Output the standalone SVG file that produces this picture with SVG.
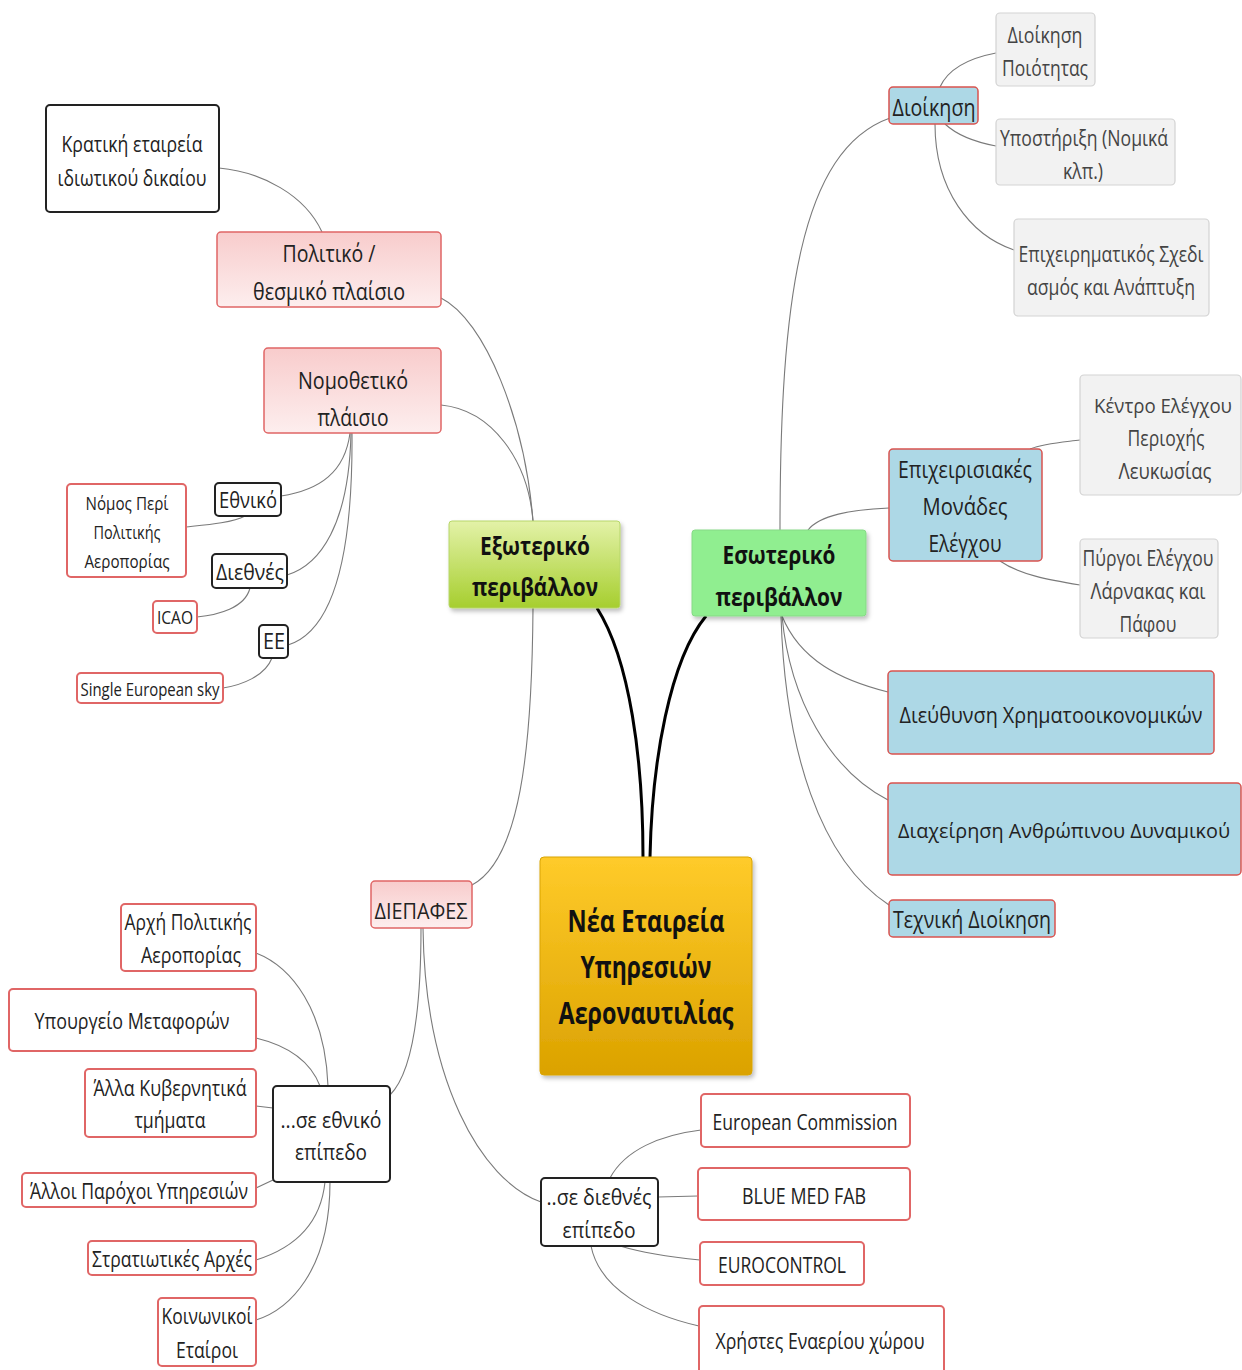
<svg xmlns="http://www.w3.org/2000/svg" width="1242" height="1370" viewBox="0 0 1242 1370">
<defs>
<linearGradient id="gCenter" x1="0" y1="0" x2="0" y2="1"><stop offset="0" stop-color="#ffcb2a"/><stop offset="1" stop-color="#dba200"/></linearGradient>
<linearGradient id="gExt" x1="0" y1="0" x2="0" y2="1"><stop offset="0" stop-color="#e3f2a8"/><stop offset="1" stop-color="#a6ce2e"/></linearGradient>
<linearGradient id="gPink" x1="0" y1="0" x2="0" y2="1"><stop offset="0" stop-color="#f8cccc"/><stop offset="1" stop-color="#fdeeee"/></linearGradient>
<filter id="sh" x="-10%" y="-10%" width="125%" height="125%"><feDropShadow dx="2" dy="3" stdDeviation="2" flood-color="#000" flood-opacity="0.25"/></filter>
<style>
.c{fill:none;stroke:#7a7a7a;stroke-width:1.1}
.k{fill:none;stroke:#000;stroke-width:3}
.pink{fill:url(#gPink);stroke:#e06666;stroke-width:1.5}
.wr{fill:#fff;stroke:#e06666;stroke-width:2}
.bk{fill:#fff;stroke:#222;stroke-width:2}
.blue{fill:#add8e6;stroke:#d9534f;stroke-width:1.5}
.gray{fill:#f2f2f2;stroke:#d3d3d3;stroke-width:1.2}
text{font-family:"Open Sans","Noto Sans",sans-serif;fill:#222;text-anchor:middle}
.g text{fill:#444}
.b{font-weight:bold;fill:#111}
</style>
</defs>
<rect width="1242" height="1370" fill="#fff"/>
<g id="connectors">
<path class="k" d="M643,857 C643,760 630,660 597,608"/>
<path class="k" d="M650,857 C652,760 670,660 706,616"/>
<path class="c" d="M533,521 C525,420 485,320 441,298"/>
<path class="c" d="M533,521 C528,460 492,410 441,405"/>
<path class="c" d="M533,608 C532,750 520,860 472,885"/>
<path class="c" d="M322,232 C305,195 262,172 219,168"/>
<path class="c" d="M350,433 C345,472 320,490 281,496"/>
<path class="c" d="M351,433 C349,525 320,565 287,575"/>
<path class="c" d="M352,433 C353,565 330,632 288,645"/>
<path class="c" d="M245,516 C232,523 205,525 186,527"/>
<path class="c" d="M250,588 C245,608 218,615 197,617"/>
<path class="c" d="M272,658 C265,676 242,685 223,688"/>
<path class="c" d="M421,928 C421,1020 410,1075 390,1095"/>
<path class="c" d="M423,928 C425,1080 480,1180 541,1202"/>
<path class="c" d="M328,1086 C325,1010 292,967 256,953"/>
<path class="c" d="M320,1086 C310,1060 285,1045 256,1038"/>
<path class="c" d="M273,1108 L256,1106"/>
<path class="c" d="M273,1180 L256,1188"/>
<path class="c" d="M325,1182 C320,1230 288,1250 256,1260"/>
<path class="c" d="M330,1182 C330,1272 288,1310 256,1320"/>
<path class="c" d="M610,1178 C625,1150 660,1135 701,1130"/>
<path class="c" d="M658,1197 L698,1196"/>
<path class="c" d="M620,1246 C650,1255 680,1258 700,1260"/>
<path class="c" d="M591,1246 C600,1290 650,1315 699,1326"/>
<path class="c" d="M780,530 C780,300 800,150 890,118"/>
<path class="c" d="M808,530 C820,515 850,510 889,508"/>
<path class="c" d="M782,616 C800,660 840,680 888,692"/>
<path class="c" d="M782,616 C790,700 830,770 888,800"/>
<path class="c" d="M781,616 C785,750 820,860 889,905"/>
<path class="c" d="M940,87 C950,65 975,57 996,53"/>
<path class="c" d="M945,124 C960,138 980,143 996,146"/>
<path class="c" d="M935,124 C935,190 970,235 1014,250"/>
<path class="c" d="M1030,449 C1045,443 1065,442 1080,440"/>
<path class="c" d="M1000,561 C1020,575 1050,580 1080,585"/>
</g>

<g id="center">
<rect x="540" y="857" width="212" height="218" rx="4" fill="url(#gCenter)" stroke="#d9a400" filter="url(#sh)"/>
<text class="b" font-size="30" x="646" y="932" textLength="157" lengthAdjust="spacingAndGlyphs">Νέα Εταιρεία</text>
<text class="b" font-size="30" x="646" y="978" textLength="131" lengthAdjust="spacingAndGlyphs">Υπηρεσιών</text>
<text class="b" font-size="30" x="646" y="1024" textLength="175" lengthAdjust="spacingAndGlyphs">Αεροναυτιλίας</text>
</g>
<g id="exoteriko">
<rect x="449" y="521" width="171" height="87" rx="3" fill="url(#gExt)" stroke="#b7d66a" filter="url(#sh)"/>
<text class="b" font-size="25" x="535" y="555" textLength="110" lengthAdjust="spacingAndGlyphs">Εξωτερικό</text>
<text class="b" font-size="25" x="535" y="596" textLength="126" lengthAdjust="spacingAndGlyphs">περιβάλλον</text>
</g>
<g id="esoteriko">
<rect x="692" y="530" width="174" height="86" rx="3" fill="#90ee90" stroke="#86d986" filter="url(#sh)"/>
<text class="b" font-size="25" x="779" y="564" textLength="113" lengthAdjust="spacingAndGlyphs">Εσωτερικό</text>
<text class="b" font-size="25" x="779" y="606" textLength="127" lengthAdjust="spacingAndGlyphs">περιβάλλον</text>
</g>

<g id="kratiki">
<rect class="bk" x="46" y="105" width="173" height="107" rx="4"/>
<text font-size="21" x="132" y="152" textLength="141" lengthAdjust="spacingAndGlyphs">Κρατική εταιρεία</text>
<text font-size="21" x="132" y="186" textLength="149" lengthAdjust="spacingAndGlyphs">ιδιωτικού δικαίου</text>
</g>
<g id="politiko">
<rect class="pink" x="217" y="232" width="224" height="75" rx="4"/>
<text font-size="24" x="329" y="262" textLength="93" lengthAdjust="spacingAndGlyphs">Πολιτικό /</text>
<text font-size="24" x="329" y="300" textLength="152" lengthAdjust="spacingAndGlyphs">θεσμικό πλαίσιο</text>
</g>
<g id="nomothetiko">
<rect class="pink" x="264" y="348" width="177" height="85" rx="4"/>
<text font-size="24" x="353" y="389" textLength="110" lengthAdjust="spacingAndGlyphs">Νομοθετικό</text>
<text font-size="24" x="353" y="426" textLength="71" lengthAdjust="spacingAndGlyphs">πλάισιο</text>
</g>
<g id="ethniko">
<rect class="bk" x="215" y="483" width="66" height="33" rx="4"/>
<text font-size="21" x="248" y="508" textLength="58" lengthAdjust="spacingAndGlyphs">Εθνικό</text>
</g>
<g id="nomos">
<rect class="wr" x="67" y="484" width="119" height="93" rx="4"/>
<text font-size="18" x="127" y="510" textLength="83" lengthAdjust="spacingAndGlyphs">Νόμος Περί</text>
<text font-size="18" x="127" y="539" textLength="67" lengthAdjust="spacingAndGlyphs">Πολιτικής</text>
<text font-size="18" x="127" y="568" textLength="85" lengthAdjust="spacingAndGlyphs">Αεροπορίας</text>
</g>
<g id="diethnes">
<rect class="bk" x="212" y="554" width="75" height="34" rx="4"/>
<text font-size="21" x="250" y="580" textLength="68" lengthAdjust="spacingAndGlyphs">Διεθνές</text>
</g>
<g id="icao">
<rect class="wr" x="153" y="601" width="44" height="32" rx="4"/>
<text font-size="18" x="175" y="624" textLength="36" lengthAdjust="spacingAndGlyphs">ICAO</text>
</g>
<g id="ee">
<rect class="bk" x="259" y="625" width="29" height="33" rx="4"/>
<text font-size="21" x="274" y="649" textLength="22" lengthAdjust="spacingAndGlyphs">ΕΕ</text>
</g>
<g id="ses">
<rect class="wr" x="77" y="673" width="146" height="30" rx="4"/>
<text font-size="18" x="150" y="696" textLength="139" lengthAdjust="spacingAndGlyphs">Single European sky</text>
</g>

<g id="diepafes">
<rect class="pink" x="371" y="881" width="101" height="47" rx="4"/>
<text font-size="22" x="421" y="919" textLength="93" lengthAdjust="spacingAndGlyphs">ΔΙΕΠΑΦΕΣ</text>
</g>
<g id="ethniko-epipedo">
<rect class="bk" x="273" y="1086" width="117" height="96" rx="4"/>
<text font-size="22" x="331" y="1128" textLength="101" lengthAdjust="spacingAndGlyphs">...σε εθνικό</text>
<text font-size="22" x="331" y="1160" textLength="72" lengthAdjust="spacingAndGlyphs">επίπεδο</text>
</g>
<g id="archi">
<rect class="wr" x="121" y="904" width="135" height="67" rx="4"/>
<text font-size="21" x="188" y="930" textLength="127" lengthAdjust="spacingAndGlyphs">Αρχή Πολιτικής</text>
<text font-size="21" x="191" y="963" textLength="100" lengthAdjust="spacingAndGlyphs">Αεροπορίας</text>
</g>
<g id="ypourgeio">
<rect class="wr" x="9" y="989" width="247" height="62" rx="4"/>
<text font-size="21" x="132" y="1029" textLength="195" lengthAdjust="spacingAndGlyphs">Υπουργείο Μεταφορών</text>
</g>
<g id="alla">
<rect class="wr" x="85" y="1069" width="171" height="68" rx="4"/>
<text font-size="21" x="170" y="1096" textLength="153" lengthAdjust="spacingAndGlyphs">Άλλα Κυβερνητικά</text>
<text font-size="21" x="170" y="1128" textLength="71" lengthAdjust="spacingAndGlyphs">τμήματα</text>
</g>
<g id="alloi">
<rect class="wr" x="22" y="1173" width="234" height="34" rx="4"/>
<text font-size="21" x="139" y="1199" textLength="218" lengthAdjust="spacingAndGlyphs">Άλλοι Παρόχοι Υπηρεσιών</text>
</g>
<g id="stratiotikes">
<rect class="wr" x="88" y="1241" width="168" height="34" rx="4"/>
<text font-size="21" x="172" y="1267" textLength="160" lengthAdjust="spacingAndGlyphs">Στρατιωτικές Αρχές</text>
</g>
<g id="koinonikoi">
<rect class="wr" x="158" y="1298" width="98" height="68" rx="4"/>
<text font-size="21" x="207" y="1324" textLength="91" lengthAdjust="spacingAndGlyphs">Κοινωνικοί</text>
<text font-size="21" x="207" y="1358" textLength="62" lengthAdjust="spacingAndGlyphs">Εταίροι</text>
</g>

<g id="diethnes-epipedo">
<rect class="bk" x="541" y="1178" width="117" height="68" rx="4"/>
<text font-size="22" x="599" y="1205" textLength="105" lengthAdjust="spacingAndGlyphs">..σε διεθνές</text>
<text font-size="22" x="599" y="1238" textLength="73" lengthAdjust="spacingAndGlyphs">επίπεδο</text>
</g>
<g id="ec">
<rect class="wr" x="701" y="1094" width="209" height="53" rx="4"/>
<text font-size="21" x="805" y="1130" textLength="185" lengthAdjust="spacingAndGlyphs">European Commission</text>
</g>
<g id="bluemed">
<rect class="wr" x="698" y="1168" width="212" height="52" rx="4"/>
<text font-size="21" x="804" y="1204" textLength="124" lengthAdjust="spacingAndGlyphs">BLUE MED FAB</text>
</g>
<g id="eurocontrol">
<rect class="wr" x="700" y="1242" width="164" height="43" rx="4"/>
<text font-size="21" x="782" y="1273" textLength="128" lengthAdjust="spacingAndGlyphs">EUROCONTROL</text>
</g>
<g id="xristes">
<rect class="wr" x="699" y="1306" width="245" height="70" rx="4"/>
<text font-size="21" x="820" y="1349" textLength="209" lengthAdjust="spacingAndGlyphs">Χρήστες Εναερίου χώρου</text>
</g>

<g id="dioikisi">
<rect class="blue" x="889" y="87" width="89" height="37" rx="4"/>
<text font-size="23" x="934" y="116" textLength="83" lengthAdjust="spacingAndGlyphs">Διοίκηση</text>
</g>
<g id="poiotita" class="g">
<rect class="gray" x="996" y="13" width="99" height="73" rx="4"/>
<text font-size="21" x="1045" y="43" textLength="75" lengthAdjust="spacingAndGlyphs">Διοίκηση</text>
<text font-size="21" x="1045" y="76" textLength="86" lengthAdjust="spacingAndGlyphs">Ποιότητας</text>
</g>
<g id="ypostirixi" class="g">
<rect class="gray" x="996" y="119" width="179" height="66" rx="4"/>
<text font-size="21" x="1084" y="146" textLength="168" lengthAdjust="spacingAndGlyphs">Υποστήριξη (Νομικά</text>
<text font-size="21" x="1083" y="179" textLength="40" lengthAdjust="spacingAndGlyphs">κλπ.)</text>
</g>
<g id="sxediasmos" class="g">
<rect class="gray" x="1014" y="219" width="195" height="97" rx="4"/>
<text font-size="21" x="1111" y="262" textLength="185" lengthAdjust="spacingAndGlyphs">Επιχειρηματικός Σχεδι</text>
<text font-size="21" x="1111" y="295" textLength="168" lengthAdjust="spacingAndGlyphs">ασμός και Ανάπτυξη</text>
</g>
<g id="monades">
<rect class="blue" x="889" y="449" width="153" height="112" rx="4"/>
<text font-size="23" x="965" y="478" textLength="134" lengthAdjust="spacingAndGlyphs">Επιχειρισιακές</text>
<text font-size="23" x="965" y="515" textLength="85" lengthAdjust="spacingAndGlyphs">Μονάδες</text>
<text font-size="23" x="965" y="552" textLength="73" lengthAdjust="spacingAndGlyphs">Ελέγχου</text>
</g>
<g id="kentro" class="g">
<rect class="gray" x="1080" y="375" width="161" height="120" rx="4"/>
<text font-size="20" x="1163" y="413" textLength="138" lengthAdjust="spacingAndGlyphs">Κέντρο Ελέγχου</text>
<text font-size="21" x="1166" y="446" textLength="77" lengthAdjust="spacingAndGlyphs">Περιοχής</text>
<text font-size="21" x="1165" y="479" textLength="93" lengthAdjust="spacingAndGlyphs">Λευκωσίας</text>
</g>
<g id="pyrgoi" class="g">
<rect class="gray" x="1080" y="539" width="138" height="99" rx="4"/>
<text font-size="21" x="1148" y="566" textLength="131" lengthAdjust="spacingAndGlyphs">Πύργοι Ελέγχου</text>
<text font-size="21" x="1148" y="599" textLength="115" lengthAdjust="spacingAndGlyphs">Λάρνακας και</text>
<text font-size="21" x="1148" y="632" textLength="57" lengthAdjust="spacingAndGlyphs">Πάφου</text>
</g>
<g id="oikonomika">
<rect class="blue" x="888" y="671" width="326" height="83" rx="4"/>
<text font-size="22" x="1051" y="723" textLength="303" lengthAdjust="spacingAndGlyphs">Διεύθυνση Χρηματοοικονομικών</text>
</g>
<g id="anthropino">
<rect class="blue" x="888" y="783" width="353" height="92" rx="4"/>
<text font-size="20" x="1064" y="838" textLength="332" lengthAdjust="spacingAndGlyphs">Διαχείρηση Ανθρώπινου Δυναμικού</text>
</g>
<g id="texniki">
<rect class="blue" x="889" y="900" width="166" height="37" rx="4"/>
<text font-size="23" x="972" y="928" textLength="158" lengthAdjust="spacingAndGlyphs">Τεχνική Διοίκηση</text>
</g>
</svg>
